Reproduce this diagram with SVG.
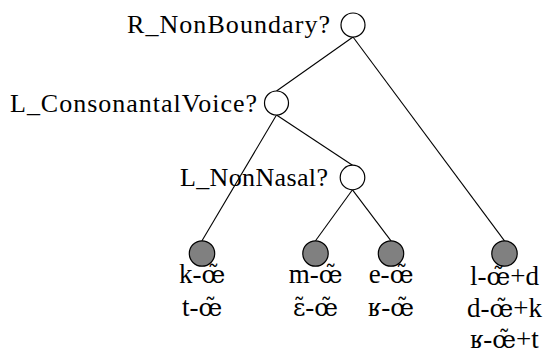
<svg xmlns="http://www.w3.org/2000/svg" width="546" height="354" viewBox="0 0 546 354">
  <style>
    text { font-family: 'Liberation Serif', 'DejaVu Serif', serif; font-size: 26px; fill: #000; }
    .q { text-anchor: end; }
    .lbl { text-anchor: middle; font-size: 27px; }
    /* nasal vowels: DejaVu Serif places the combining tilde over the base glyph */
    .nv { font-family: 'DejaVu Serif', serif; font-size: 24px; }
    .inner { fill: #fff; stroke: #000; stroke-width: 1.2; }
    .leaf { fill: #808080; stroke: #000; stroke-width: 1.2; }
    #edges line { stroke: #000; stroke-width: 1.1; }
  </style>
  <rect width="546" height="354" fill="#fff"/>

  <!-- edges run from parent.south to child.north -->
  <g id="edges">
    <line x1="353" y1="37" x2="276.5" y2="91"/>
    <line x1="353" y1="37" x2="504.5" y2="240.8"/>
    <line x1="276.5" y1="115" x2="202" y2="240.8"/>
    <line x1="276.5" y1="115" x2="352.5" y2="165.2"/>
    <line x1="352.5" y1="189.8" x2="315.5" y2="240.8"/>
    <line x1="352.5" y1="189.8" x2="391" y2="240.8"/>
  </g>

  <g id="root">
    <circle class="inner" cx="353" cy="25" r="12"/>
    <text class="q" x="330" y="33" textLength="203" lengthAdjust="spacing">R_NonBoundary?</text>
  </g>

  <g id="consonantal-voice">
    <circle class="inner" cx="276.5" cy="103" r="12"/>
    <text class="q" x="257" y="111.5" textLength="247" lengthAdjust="spacing">L_ConsonantalVoice?</text>
  </g>

  <g id="non-nasal">
    <circle class="inner" cx="352.5" cy="177.5" r="12.3"/>
    <text class="q" x="328" y="185.5" textLength="148" lengthAdjust="spacing">L_NonNasal?</text>
  </g>

  <g id="leaf-1">
    <circle class="leaf" cx="202" cy="253.5" r="12.7"/>
    <text class="lbl" x="202" y="283">k-<tspan class="nv">œ̃</tspan></text>
    <text class="lbl" x="202" y="315.5">t-<tspan class="nv">œ̃</tspan></text>
  </g>

  <g id="leaf-2">
    <circle class="leaf" cx="315.5" cy="253.5" r="12.7"/>
    <text class="lbl" x="315.5" y="283">m-<tspan class="nv">œ̃</tspan></text>
    <text class="lbl" x="315.5" y="315.5"><tspan class="nv">ɛ̃</tspan>-<tspan class="nv">œ̃</tspan></text>
  </g>

  <g id="leaf-3">
    <circle class="leaf" cx="391" cy="253.5" r="12.7"/>
    <text class="lbl" x="391" y="283">e-<tspan class="nv">œ̃</tspan></text>
    <text class="lbl" x="391" y="315.5">ʁ-<tspan class="nv">œ̃</tspan></text>
  </g>

  <g id="leaf-4">
    <circle class="leaf" cx="504.5" cy="253.5" r="12.7"/>
    <text class="lbl" x="504.5" y="285">l-<tspan class="nv">œ̃</tspan>+d</text>
    <text class="lbl" x="504.5" y="316.5">d-<tspan class="nv">œ̃</tspan>+k</text>
    <text class="lbl" x="504.5" y="348">ʁ-<tspan class="nv">œ̃</tspan>+t</text>
  </g>
</svg>
